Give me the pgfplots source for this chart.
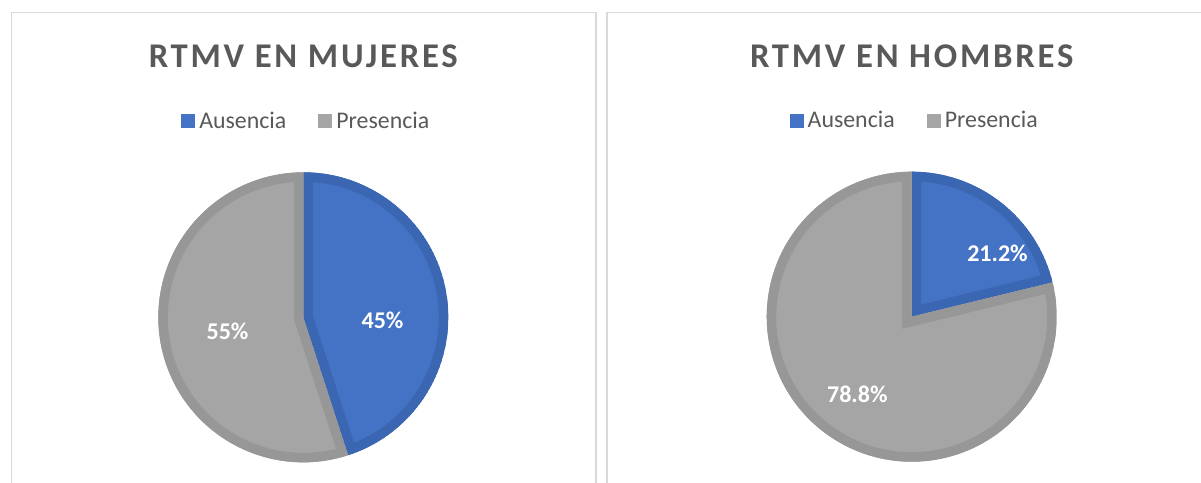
\documentclass[border=0pt]{standalone}
\usepackage{pgfplots}
\pgfplotsset{compat=1.18}
\usepackage{pgfplotstable}
\usepackage{fontspec}
\setmainfont{Carlito}
\newfontfamily\titlefont[LetterSpace=8]{Carlito}
\definecolor{aus}{HTML}{4472C4}
\definecolor{ausd}{HTML}{3A66B2}
\definecolor{pre}{HTML}{A5A5A5}
\definecolor{pred}{HTML}{979797}
\definecolor{txt}{HTML}{595959}
\definecolor{framec}{HTML}{D9D9D9}

\pgfplotstableread{
cat value
Ausencia 45
Presencia 55
}\mujeres
\pgfplotstableread{
cat value
Ausencia 21.2
Presencia 78.8
}\hombres

\def\u{0.75pt}
\def\R{108.75pt}
% slice: start angle, end angle, fill colour, border colour
\newcommand{\slice}[4]{%
  \begin{scope}
    \clip (axis cs:0,0) -- ++(#1:\R) arc[start angle=#1, end angle=#2, radius=\R] -- cycle;
    \filldraw[fill=#3, draw=#4, line width=14.25pt, line join=miter]
      (axis cs:0,0) -- ++(#1:\R) arc[start angle=#1, end angle=#2, radius=\R] -- cycle;
  \end{scope}}

\tikzset{lbl/.style={text=white, font=\bfseries\fontsize{18}{21}\selectfont, anchor=center}}

\pgfplotsset{
  pieaxis/.style={
    hide axis, scale only axis, width=217.5pt, height=217.5pt,
    xmin=-1, xmax=1, ymin=-1, ymax=1, clip=false,
    anchor=center,
    title style={at={(0.5,1)}, anchor=base, yshift=72.5pt,
      font=\titlefont\bfseries\fontsize{26}{31}\selectfont, text=txt},
    legend columns=2,
    legend style={at={(0.5,1)}, anchor=center, yshift=38.25pt, xshift=3pt,
      draw=none, fill=none, font=\fontsize{17.9}{21}\selectfont, text=txt,
      /tikz/every even column/.append style={column sep=21pt},
      nodes={inner sep=3pt}},
    legend image code/.code={\fill[##1, draw=none] (0pt,-5.25pt) rectangle (10.5pt,5.25pt);},
  },
}

\begin{document}
\begin{tikzpicture}
\useasboundingbox (0,0) rectangle ({1201*\u},{-482*\u});
\clip (0,0) rectangle ({1201*\u},{-482*\u});
\draw[framec, line width={1.6*\u}] ({11.5*\u},{-500*\u}) -- ({11.5*\u},{-12.5*\u}) -- ({596*\u},{-12.5*\u}) -- ({596*\u},{-500*\u});
\draw[framec, line width={1.6*\u}] ({607*\u},{-500*\u}) -- ({607*\u},{-12.5*\u}) -- ({1230*\u},{-12.5*\u});

\pgfplotstablegetelem{0}{value}\of\mujeres \let\mA\pgfplotsretval
\pgfmathsetmacro\mEnd{90-3.6*\mA}
\pgfplotstablegetelem{0}{value}\of\hombres \let\hA\pgfplotsretval
\pgfmathsetmacro\hEnd{90-3.6*\hA}

\begin{axis}[pieaxis, at={({303.3*\u},{-317.3*\u})}, title={RTMV EN MUJERES}]
  \addlegendimage{fill=aus}\addlegendentry{Ausencia}
  \addlegendimage{fill=pre}\addlegendentry{Presencia}
  \slice{90}{\mEnd}{aus}{ausd}
  \slice{\mEnd}{-270}{pre}{pred}
  \path (axis cs:0,0) ++(-2.5:{0.547*\R}) node[lbl] {45\%};
  \path (axis cs:0,0) ++(190.8:{0.532*\R}) node[lbl] {55\%};
\end{axis}

\begin{axis}[pieaxis, at={({911.7*\u},{-316.7*\u})}, title={RTMV EN HOMBRES}]
  \addlegendimage{fill=aus}\addlegendentry{Ausencia}
  \addlegendimage{fill=pre}\addlegendentry{Presencia}
  \slice{90}{\hEnd}{aus}{ausd}
  \slice{\hEnd}{-270}{pre}{pred}
  \path (axis cs:0,0) ++(36.4:{0.735*\R}) node[lbl] {21.2\%};
  \path (axis cs:0,0) ++(-124.9:{0.656*\R}) node[lbl] {78.8\%};
\end{axis}
\end{tikzpicture}
\end{document}
